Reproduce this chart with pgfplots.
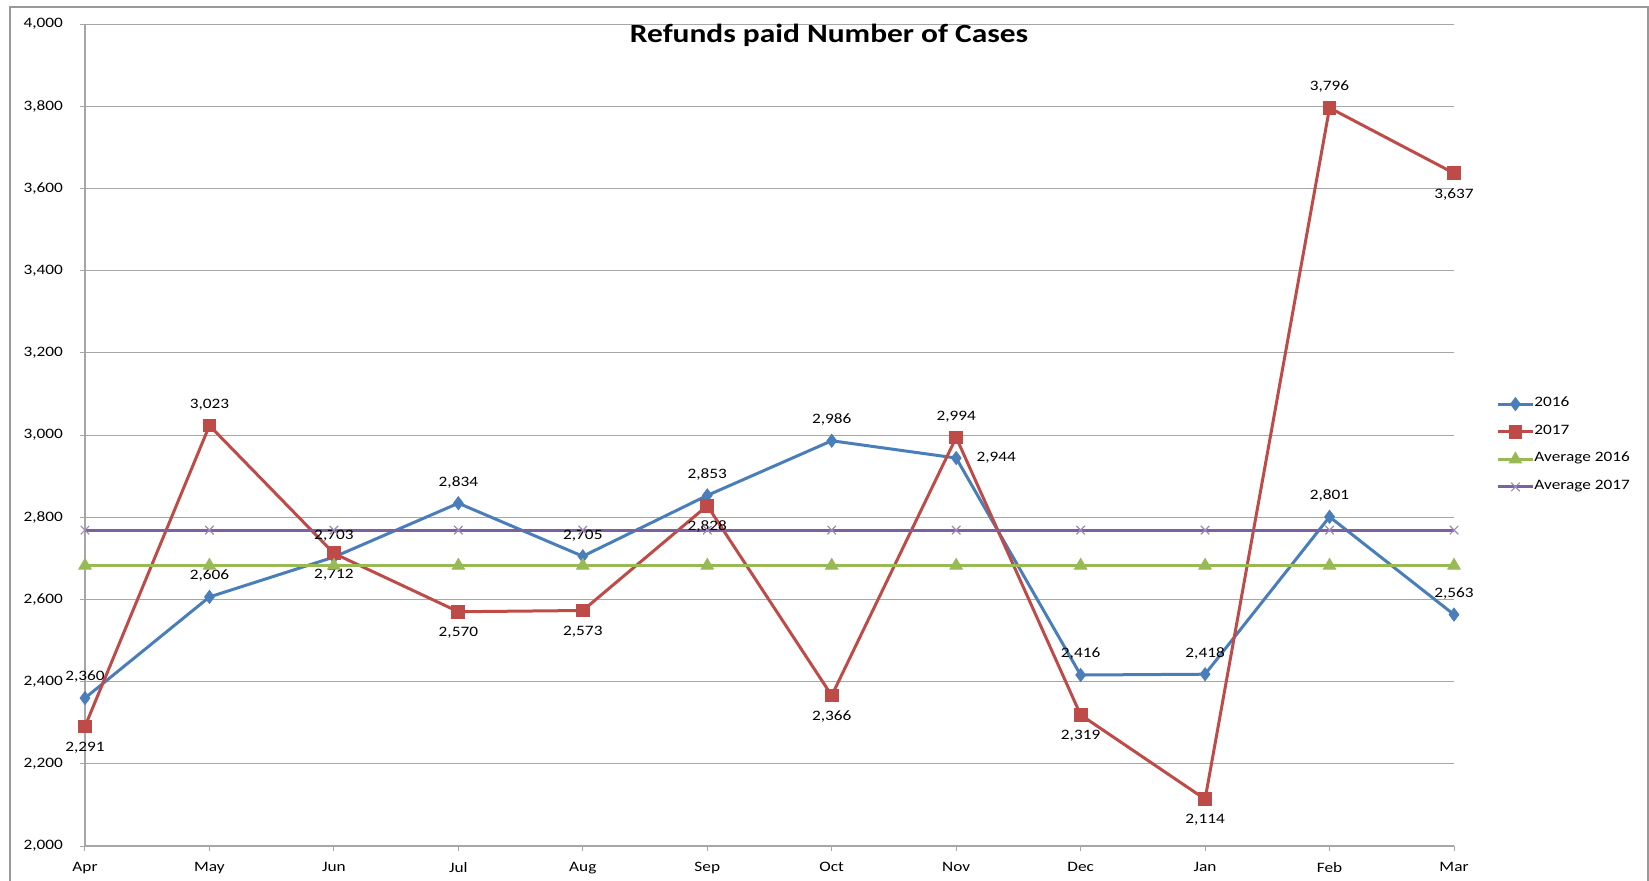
\documentclass[border=0pt]{standalone}
\usepackage{pgfplots}
\pgfplotsset{compat=1.18}
\usepackage{pgfplotstable}
\usepackage{fontspec}
\setmainfont{Carlito}[FakeStretch=1.2]
\definecolor{sblue}{HTML}{4A7EBB}
\definecolor{sred}{HTML}{BE4B48}
\definecolor{sgreen}{HTML}{98B954}
\definecolor{spurple}{HTML}{7D60A0}
\definecolor{gridc}{HTML}{A6A6A6}

\pgfplotstableread{
x y dx dy
0 2360 0 10.5
1 2606 0 10.5
2 2703 0 10.5
3 2834 0 10.5
4 2705 0 10.5
5 2853 0 10.5
6 2986 0 10.5
7 2944 20 0
8 2416 0 10.5
9 2418 0 10.5
10 2801 0 10.5
11 2563 0 10.5
}\tblA

\pgfplotstableread{
x y dx dy
0 2291 0 -10.5
1 3023 0 10.5
2 2712 0 -10.5
3 2570 0 -10.5
4 2573 0 -10.5
5 2828 0 -10.5
6 2366 0 -10.5
7 2994 0 10.5
8 2319 0 -10.5
9 2114 0 -10.5
10 3796 0 10.5
11 3637 0 -10.5
}\tblB

\pgfplotstableread{
x y
0 2682.4
1 2682.4
2 2682.4
3 2682.4
4 2682.4
5 2682.4
6 2682.4
7 2682.4
8 2682.4
9 2682.4
10 2682.4
11 2682.4
}\tblC

\pgfplotstableread{
x y
0 2768.6
1 2768.6
2 2768.6
3 2768.6
4 2768.6
5 2768.6
6 2768.6
7 2768.6
8 2768.6
9 2768.6
10 2768.6
11 2768.6
}\tblD

\begin{document}
\begin{tikzpicture}
\useasboundingbox (0,0) rectangle (824.5pt,440pt);
\begin{axis}[
  at={(42.5pt,17pt)}, anchor=south west,
  scale only axis, width=684.5pt, height=411pt,
  xmin=0, xmax=11, ymin=2000, ymax=4000,
  xtick={0,...,11},
  xticklabels={Apr,May,Jun,Jul,Aug,Sep,Oct,Nov,Dec,Jan,Feb,Mar},
  ytick={2000,2200,...,4000},
  /pgf/number format/.cd, 1000 sep={,}, assume math mode=true, /pgfplots/.cd,
  axis x line*=bottom, axis y line*=left,
  axis line style={gridc, line width=0.6pt, -},
  ymajorgrids, grid style={gridc, line width=0.5pt},
  tick align=outside, major tick length=2.5pt,
  tick style={gridc, line width=0.5pt},
  xtick style={gridc}, 
  ticklabel style={font=\fontsize{7.2}{8}\selectfont, text=black},
  xticklabel style={yshift=-2pt},
  yticklabel style={xshift=-5pt},
  title={Refunds paid Number of Cases},
  every axis title/.style={font=\fontsize{13.1}{15}\selectfont\bfseries, at={(0.5435,0.9866)}, anchor=center, inner sep=0pt},
  clip=false,
  legend cell align=left,
  legend style={draw=none, fill=none, at={(1.0307,0.4872)}, anchor=west, inner sep=0pt,
    font=\fontsize{7.2}{8}\selectfont, row sep=6.3pt,
    nodes={inner sep=0pt, text height=5pt, text depth=2.5pt, xshift=1.5pt}},
  legend image code/.code={\draw[mark repeat=2, mark phase=2, #1] plot coordinates {(0pt,0pt) (8.75pt,0pt) (17.5pt,0pt)};},
  every axis plot/.append style={line width=1.5pt},
]
\addplot[sblue, mark=diamond*, mark size=3.2pt, mark options={solid, line width=0.5pt},
  nodes near coords,
  visualization depends on={\thisrow{dx} \as \dx},
  visualization depends on={\thisrow{dy} \as \dy},
  nodes near coords style={font=\fontsize{7.2}{8}\selectfont, text=black, anchor=center, xshift=\dx pt, yshift=\dy pt, inner sep=0pt}
] table[x=x, y=y] {\tblA};
\addlegendentry{2016}
\addplot[sred, mark=square*, mark size=3.2pt, mark options={solid, line width=0.5pt},
  nodes near coords,
  visualization depends on={\thisrow{dx} \as \dx},
  visualization depends on={\thisrow{dy} \as \dy},
  nodes near coords style={font=\fontsize{7.2}{8}\selectfont, text=black, anchor=center, xshift=\dx pt, yshift=\dy pt, inner sep=0pt}
] table[x=x, y=y] {\tblB};
\addlegendentry{2017}
\addplot[sgreen, mark=triangle*, mark size=3.5pt, mark options={solid, line width=0.5pt}] table[x=x, y=y] {\tblC};
\addlegendentry{Average 2016}
\addplot[spurple, mark=x, mark size=3pt, mark options={solid, line width=0.6pt, draw=spurple!75}] table[x=x, y=y] {\tblD};
\addlegendentry{Average 2017}
\end{axis}
\draw[gray!80, line width=1pt] (5pt,-5pt) rectangle (824pt,436.5pt);
\end{tikzpicture}
\end{document}
